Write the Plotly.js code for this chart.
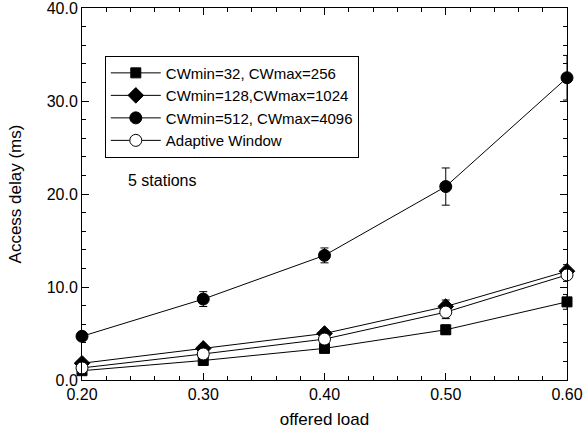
<!DOCTYPE html>
<html><head><meta charset="utf-8">
<script src="https://cdn.plot.ly/plotly-3.0.1.min.js"></script>
<style>html,body{margin:0;padding:0;background:#fff}#c{width:583px;height:436px}</style>
</head><body><div id="c"></div>
<script>
const load = [0.20, 0.30, 0.40, 0.50, 0.60];
const names = ["CWmin=32, CWmax=256", "CWmin=128,CWmax=1024", "CWmin=512, CWmax=4096", "Adaptive Window"];
const cw32 = [1.0, 2.1, 3.4, 5.4, 8.4];
const cw32Err = [0.3, 0.3, 0.4, 0.5, 0.8];
const cw128 = [1.8, 3.4, 5.0, 7.9, 11.7];
const cw128Err = [0.3, 0.3, 0.4, 0.7, 0.7];
const cw512 = [4.7, 8.7, 13.4, 20.8, 32.5];
const cw512Err = [0.3, 0.8, 0.8, 2.0, 2.4];
const adaptive = [1.3, 2.8, 4.4, 7.3, 11.3];
const adaptiveErr = [0.3, 0.3, 0.4, 0.7, 0.7];
const stationsLabel = "5 stations";
const xTitle = "offered load";
const yTitle = "Access delay (ms)";

const F = "Arial, 'Liberation Sans', sans-serif";
function tr(name, y, err, sym, size, fill) {
  return {
    x: load, y: y, name: name, type: 'scatter', mode: 'lines+markers', cliponaxis: false,
    line: {color: '#000', width: 1},
    marker: {symbol: sym, size: size, color: fill, line: {color: '#000', width: 1}},
    error_y: {type: 'data', array: err, visible: true, color: '#000', thickness: 1, width: 4}
  };
}
const data = [
  tr(names[0], cw32, cw32Err, 'square', 10, '#000'),
  tr(names[1], cw128, cw128Err, 'diamond', 12, '#000'),
  tr(names[2], cw512, cw512Err, 'circle', 12, '#000'),
  tr(names[3], adaptive, adaptiveErr, 'circle', 12, '#fff'),
  {x: load, y: cw512, xaxis: 'x2', yaxis: 'y2', mode: 'none', type: 'scatter', showlegend: false, hoverinfo: 'skip'}
];
const axBase = {
  showgrid: false, zeroline: false, showline: true, linecolor: '#000', linewidth: 1,
  mirror: true, ticks: 'inside', ticklen: 7, tickcolor: '#000',
  tickfont: {family: F, size: 16, color: '#000'}, ticklabeloverflow: 'allow'
};
const xMinor = {dtick: 0.02, ticklen: 4, ticks: 'inside', tickcolor: '#000'};
const yMinor = {dtick: 2, ticklen: 4, ticks: 'inside', tickcolor: '#000'};
const layout = {
  width: 583, height: 436,
  margin: {l: 82, r: 16, t: 8, b: 56},
  paper_bgcolor: '#fff', plot_bgcolor: '#fff',
  font: {family: F, size: 16, color: '#000'},
  xaxis: Object.assign({}, axBase, {
    range: [0.2, 0.6], dtick: 0.1, tick0: 0.2, tickformat: '.2f', minor: xMinor,
    title: {text: xTitle, font: {family: F, size: 17, color: '#000'}, standoff: 10}
  }),
  yaxis: Object.assign({}, axBase, {
    range: [0, 40], dtick: 10, tickformat: '.1f', minor: yMinor,
    title: {text: yTitle, font: {family: F, size: 17, color: '#000'}, standoff: 20}
  }),
  xaxis2: {overlaying: 'x', matches: 'x', side: 'top', showgrid: false, zeroline: false,
    showline: false, showticklabels: false, ticks: 'inside', ticklen: 7, tickcolor: '#000',
    range: [0.2, 0.6], dtick: 0.1, tick0: 0.2, minor: xMinor},
  yaxis2: {overlaying: 'y', matches: 'y', side: 'right', showgrid: false, zeroline: false,
    showline: false, showticklabels: false, ticks: 'inside', ticklen: 7, tickcolor: '#000',
    range: [0, 40], dtick: 10, minor: yMinor},
  showlegend: true,
  legend: {
    x: 0.047, y: 0.872, xanchor: 'left', yanchor: 'top',
    bgcolor: '#fff', bordercolor: '#000', borderwidth: 1,
    font: {family: F, size: 15, color: '#000'},
    itemwidth: 50, tracegroupgap: 0
  },
  annotations: [{
    x: 0.2363, y: 21.4, xref: 'x', yref: 'y', xanchor: 'left', yanchor: 'middle',
    text: stationsLabel, showarrow: false, font: {family: F, size: 16, color: '#000'}
  }]
};
Plotly.newPlot('c', data, layout, {displayModeBar: false, staticPlot: true});
</script></body></html>
